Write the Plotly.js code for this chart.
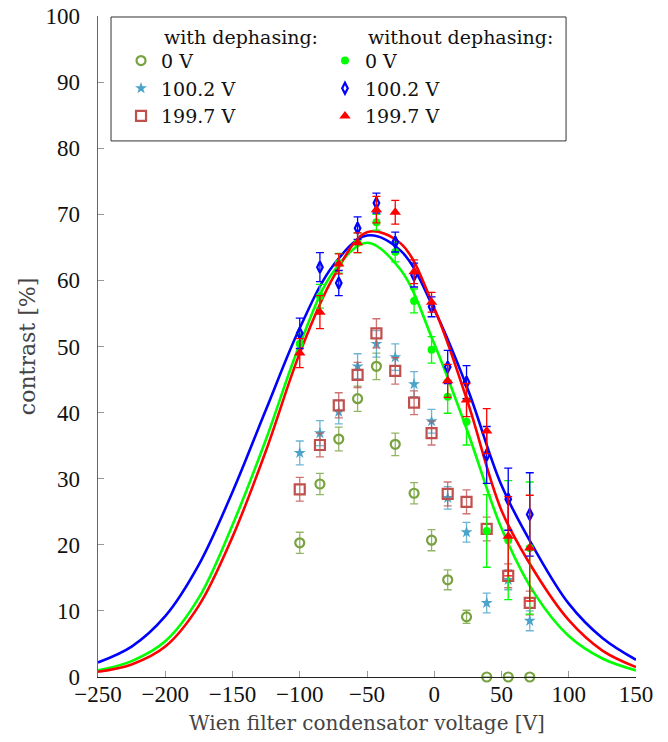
<!DOCTYPE html>
<html><head><meta charset="utf-8">
<script src="https://cdn.plot.ly/plotly-3.0.1.min.js"></script>
<style>body{margin:0;background:#fff}</style></head>
<body><div id="chart" style="width:668px;height:742px"></div>
<script>
// measured Wien filter voltages [V]
const voltages = [-100, -85, -71, -57, -43, -29, -15, -2, 10, 24, 39, 55, 71];

// with dephasing
const withDeph0      = [20.3, 29.2, 36.0, 42.1, 47.0, 35.2, 27.8, 20.7, 14.7, 9.1, 0, 0, 0];
const withDeph0Err   = [1.6, 1.6, 1.8, 1.9, 2.0, 1.7, 1.6, 1.6, 1.5, 1.0, 0, 0, 0];
const withDeph100    = [33.9, 36.9, 40.1, 47.0, 50.4, 48.4, 44.3, 38.7, 27.1, 21.9, 11.2, 14.7, 8.5];
const withDeph100Err = [1.8, 1.9, 1.8, 1.9, 2.0, 2.0, 1.9, 1.8, 1.7, 1.5, 1.5, 1.5, 1.5];
const withDeph200    = [28.4, 35.1, 41.1, 45.7, 52.0, 46.3, 41.5, 36.9, 27.7, 26.5, 22.4, 15.3, 11.2];
const withDeph200Err = [1.8, 1.8, 1.9, 1.9, 2.2, 2.0, 1.8, 1.8, 1.8, 1.8, 1.8, 1.8, 1.8];

// without dephasing
const noDeph0      = [50.4, 57.6, 62.6, 65.7, 68.8, 64.3, 56.9, 49.5, 42.4, 38.6, 22.1, 20.7, 19.5];
const noDeph0Err   = [1.5, 1.8, 1.5, 1.5, 1.2, 1.5, 1.8, 2.0, 2.5, 3.5, 5.5, 9.0, 10.0];
const noDeph100    = [52.0, 62.0, 59.6, 67.9, 71.7, 65.8, 60.8, 56.0, 46.9, 44.6, 33.6, 26.9, 24.6];
const noDeph100Err = [2.3, 2.2, 1.9, 1.7, 1.5, 1.5, 1.8, 1.5, 2.5, 2.5, 4.3, 4.7, 6.3];
const noDeph200    = [49.0, 55.2, 62.5, 65.7, 70.7, 70.3, 61.3, 56.7, 44.8, 41.9, 37.2, 21.3, 19.5];
const noDeph200Err = [2.2, 2.5, 1.5, 1.5, 2.0, 1.8, 1.8, 1.5, 2.5, 2.5, 3.4, 6.0, 8.0];

// fitted curves
const fitX    = [-250, -225, -200, -175, -150, -125, -100, -75, -50, -25, 0, 25, 50, 75, 100, 125, 150];
const fit0    = [1.0, 2.4, 5.4, 12.0, 23.0, 36.0, 50.3, 61.3, 65.7, 61.6, 50.4, 37.0, 22.5, 12.5, 6.2, 2.8, 1.0];
const fit100  = [2.2, 4.6, 9.2, 17.0, 28.0, 40.5, 52.8, 62.3, 66.8, 64.5, 55.6, 43.5, 29.0, 19.2, 11.1, 5.9, 2.6];
const fit200  = [0.8, 1.9, 4.6, 10.8, 21.2, 34.3, 49.0, 60.5, 67.3, 65.6, 55.8, 41.5, 25.2, 15.8, 8.6, 4.0, 1.5];

const labels = ['0 V', '100.2 V', '199.7 V'];
const headers = ['with dephasing:', 'without dephasing:'];
const xTicks = [-250, -200, -150, -100, -50, 0, 50, 100, 150];
const yTicks = [0, 10, 20, 30, 40, 50, 60, 70, 80, 90, 100];

const OLIVE = '#77a23f', LBLUE = '#4aa3c9', BRICK = '#c0504d';
const GREEN = '#00ff00', BLUE = '#0000ff', RED = '#ff0000';

function fitLine(y, color) {
  return {x: fitX, y: y, mode: 'lines', line: {color: color, width: 2.6, shape: 'spline', smoothing: 1.0},
          showlegend: false, hoverinfo: 'skip'};
}
function pts(y, err, name, color, errColor, marker, legend) {
  return {x: voltages, y: y, name: name, mode: 'markers', legend: legend,
          error_y: {type: 'data', array: err, visible: true, color: errColor, thickness: 1.3, width: 4},
          marker: Object.assign({color: color}, marker), cliponaxis: false};
}

const traces = [
  fitLine(fit100, BLUE), fitLine(fit0, GREEN), fitLine(fit200, RED),
  pts(withDeph0, withDeph0Err, labels[0], OLIVE, 'rgba(119,162,63,0.8)',
      {symbol: 'circle-open', size: 9, line: {width: 2.2, color: OLIVE}}, 'legend'),
  pts(withDeph100, withDeph100Err, labels[1], LBLUE, 'rgba(74,163,201,0.8)',
      {symbol: 'star', size: 9, line: {width: 0}}, 'legend'),
  pts(withDeph200, withDeph200Err, labels[2], BRICK, 'rgba(192,80,77,0.8)',
      {symbol: 'square-open', size: 10, line: {width: 2.2, color: BRICK}}, 'legend'),
  pts(noDeph0, noDeph0Err, labels[0], GREEN, GREEN,
      {symbol: 'circle', size: 8, line: {width: 0}}, 'legend2'),
  pts(noDeph100, noDeph100Err, labels[1], BLUE, BLUE,
      {symbol: 'diamond-tall-open', size: 8, line: {width: 2.2, color: BLUE}}, 'legend2'),
  pts(noDeph200, noDeph200Err, labels[2], RED, RED,
      {symbol: 'triangle-up', size: 10, line: {width: 0}}, 'legend2')
];

const TICKFONT = 'Liberation Serif, Times New Roman, serif';
const TEXTFONT = 'DejaVu Serif, serif';
const legendBase = {yanchor: 'top', xanchor: 'left', bgcolor: 'rgba(0,0,0,0)', borderwidth: 0,
                    font: {family: TEXTFONT, size: 19, color: '#111'}, tracegroupgap: 0, itemclick: false};

const layout = {
  width: 668, height: 742,
  margin: {l: 98, r: 32, t: 16, b: 65},
  paper_bgcolor: '#fff', plot_bgcolor: '#fff',
  font: {family: TEXTFONT, size: 19, color: '#111'},
  xaxis: {range: [-250, 150], tickvals: xTicks, ticks: 'inside', ticklen: 6, tickcolor: '#999',
          showgrid: false, zeroline: false, showline: true, linecolor: '#222', linewidth: 1.3,
          ticklabelstandoff: -4,
          tickfont: {family: TICKFONT, size: 23, color: '#111'},
          title: {text: 'Wien filter condensator voltage [V]',
          font: {family: TEXTFONT, size: 20, color: '#444'}, standoff: 10}},
  yaxis: {range: [0, 100], tickvals: yTicks, ticks: 'inside', ticklen: 6, tickcolor: '#999',
          showgrid: false, zeroline: false, showline: true, linecolor: '#666', linewidth: 1.3,
          ticklabelstandoff: 12,
          tickfont: {family: TICKFONT, size: 23, color: '#111'},
          title: {text: 'contrast [%]',
          font: {family: TEXTFONT, size: 22, color: '#444'}, standoff: 4}},
  legend: Object.assign({x: 0.0428, y: 0.9611}, legendBase),
  legend2: Object.assign({x: 0.4219, y: 0.9611}, legendBase),
  shapes: [{type: 'rect', xref: 'paper', yref: 'paper', x0: 0.0242, x1: 0.87, y0: 0.811, y1: 0.9985,
            line: {color: '#333', width: 1}, fillcolor: 'rgba(0,0,0,0)'}],
  annotations: [
    {xref: 'paper', yref: 'paper', x: 0.119, y: 0.9682, xanchor: 'left', yanchor: 'middle', showarrow: false,
     text: headers[0], font: {family: TEXTFONT, size: 19, color: '#111'}},
    {xref: 'paper', yref: 'paper', x: 0.4981, y: 0.9682, xanchor: 'left', yanchor: 'middle', showarrow: false,
     text: headers[1], font: {family: TEXTFONT, size: 19, color: '#111'}}
  ]
};

Plotly.newPlot('chart', traces, layout, {displayModeBar: false, staticPlot: true});
</script></body></html>
